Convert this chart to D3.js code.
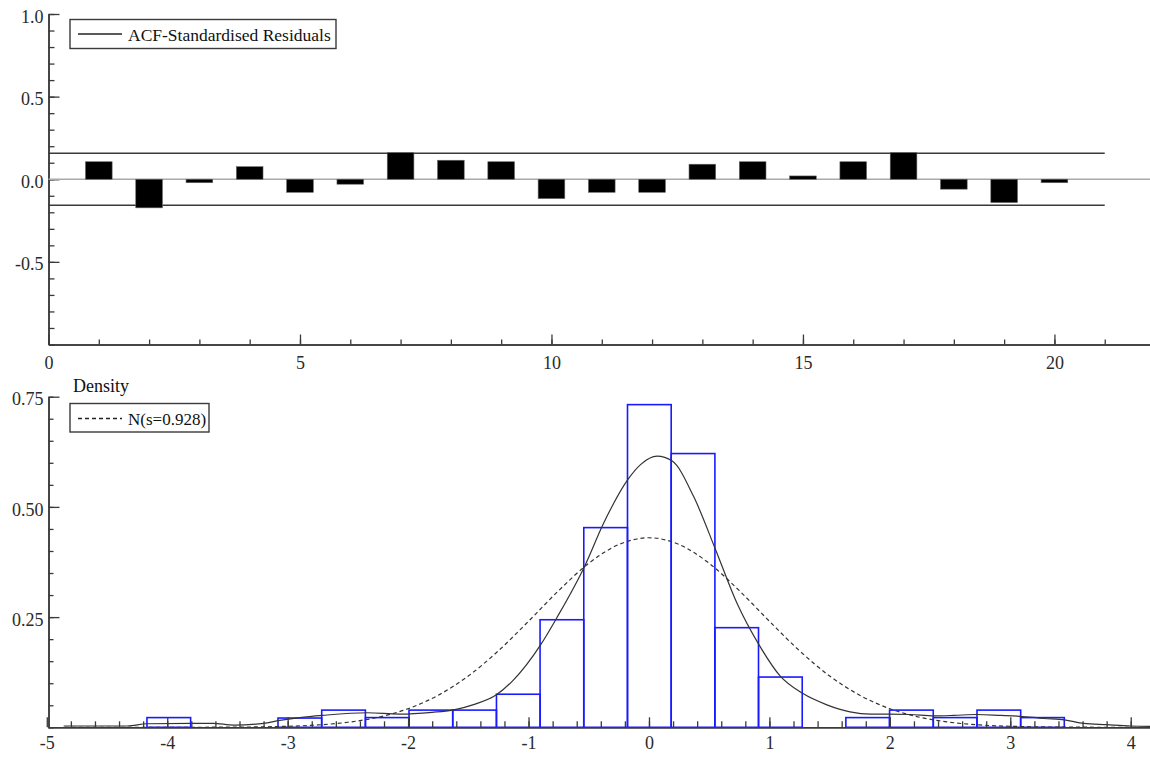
<!DOCTYPE html>
<html>
<head>
<meta charset="utf-8">
<script src="https://cdn.jsdelivr.net/npm/d3@7/dist/d3.min.js"></script>
<style>
body{margin:0;background:#fff;}
text{font-family:"Liberation Serif","Times New Roman",serif;}
</style>
</head>
<body>
<div id="chart"></div>
<script>
// ACF panel
var acfLags = [1,2,3,4,5,6,7,8,9,10,11,12,13,14,15,16,17,18,19,20];
var acfValues = [0.106,-0.173,-0.021,0.076,-0.079,-0.030,0.161,0.115,0.106,-0.117,
                 -0.079,-0.079,0.091,0.106,0.020,0.106,0.161,-0.060,-0.141,-0.021];
var acfBand = 0.157;
var acfTicks = [-0.5,0,0.5,1];
var lagTicks = [0,5,10,15,20];

// density panel
var binCentres = [-3.987,-3.624,-3.262,-2.899,-2.536,-2.173,-1.811,-1.448,-1.085,-0.723,-0.360,
                  0.003,0.366,0.728,1.091,1.454,1.816,2.179,2.542,2.905,3.267];
var binDensity = [0.022,0,0,0.021,0.039,0.022,0.039,0.039,0.075,0.244,0.453,
                  0.732,0.621,0.226,0.114,0,0.022,0.039,0.022,0.039,0.022];
var binWidth = 0.3627;
var kdeX = [-4.86,-4.33,-4.17,-3.80,-3.62,-3.45,-3.20,-3.08,-2.90,-2.71,-2.34,-2.07,-1.80,-1.63,-1.45,-1.27,
            -1.13,-0.90,-0.76,-0.535,-0.375,-0.176,-0.07,0.068,0.193,0.37,0.553,0.73,0.914,1.09,1.275,1.477,
            1.67,1.84,2.0,2.17,2.37,2.53,2.72,2.92,3.08,3.28,3.45,3.61,3.80,4.0,4.16];
var kdeY = [0.003,0.003,0.008,0.009,0.009,0.005,0.009,0.015,0.022,0.027,0.033,0.030,0.034,0.039,0.052,0.073,
            0.106,0.187,0.251,0.365,0.464,0.562,0.596,0.615,0.604,0.524,0.403,0.282,0.187,0.116,0.077,0.051,
            0.035,0.030,0.030,0.029,0.026,0.027,0.029,0.027,0.025,0.020,0.017,0.009,0.006,0.003,0.002];
var normX = [-4.85,-4.5,-4,-3.5,-3,-2.75,-2.5,-2.25,-2,-1.75,-1.5,-1.25,-1,-0.75,-0.5,-0.25,0,
             0.25,0.5,0.75,1,1.25,1.5,1.75,2,2.25,2.5,2.75,3,3.5,4,4.15];
var normY = [0,0,0.00003,0.00035,0.0023,0.0053,0.0114,0.0227,0.0421,0.0727,0.1164,0.1736,0.2406,0.310,0.372,0.4147,0.430,
             0.4147,0.372,0.310,0.2406,0.1736,0.1164,0.0727,0.0421,0.0227,0.0114,0.0053,0.0023,0.00035,0.00003,0.00001];
var densTicks = [0.25,0.5,0.75];
var resTicks = [-5,-4,-3,-2,-1,0,1,2,3,4];

var W = 1150, H = 757;
var axisColor = '#3a3a3a', labelColor = '#2a2a2a';

var svg = d3.select('#chart').append('svg')
    .attr('width', W).attr('height', H)
    .style('background', '#fff');

// plain hyphen for negatives, like the original program
function fmt(spec){
    var f = d3.format(spec);
    return function(d){ return f(d).replace('\u2212', '-'); };
}

function styleAxis(g, size){
    g.select('.domain').attr('stroke', axisColor).attr('stroke-width', 1.5);
    g.selectAll('.tick line').attr('stroke', axisColor).attr('stroke-width', 1.3);
    g.selectAll('text')
        .attr('font-family', '"Liberation Serif","Times New Roman",serif')
        .attr('font-size', size || 18)
        .attr('fill', labelColor);
    g.attr('font-family', null).attr('font-size', null);
}

// ---------- top: ACF ----------
var x1 = d3.scaleLinear().domain([0, 21.9]).range([48.5, 1150]);
var y1 = d3.scaleLinear().domain([-1, 1]).range([344.5, 14]);

var minorY1 = d3.range(-10, 11).map(function(d){ return d / 10; });
svg.append('g').attr('transform', 'translate(48.5,0)')
    .call(d3.axisLeft(y1).tickValues(minorY1).tickSize(-6).tickSizeOuter(0).tickFormat(''))
    .call(styleAxis);
svg.append('g').attr('transform', 'translate(48.5,0)')
    .call(d3.axisLeft(y1).tickValues(acfTicks).tickSize(-11).tickSizeOuter(0).tickPadding(5)
        .tickFormat(fmt('.1f')))
    .call(styleAxis)
    .selectAll('text').attr('dy', '0.45em');

// zero line and +-2SE band
svg.append('line')
    .attr('x1', x1(0)).attr('x2', W)
    .attr('y1', y1(0)).attr('y2', y1(0))
    .attr('stroke', '#aaaaaa').attr('stroke-width', 1.5);
[acfBand, -acfBand].forEach(function(b){
    svg.append('line')
        .attr('x1', x1(0)).attr('x2', x1(21))
        .attr('y1', y1(b)).attr('y2', y1(b))
        .attr('stroke', '#3a3a3a').attr('stroke-width', 1.6);
});

var barW = x1(0.53) - x1(0);
svg.append('g').selectAll('rect')
    .data(acfValues)
    .enter()
    .append('rect')
    .attr('x', function(d, i){ return x1(acfLags[i]) - barW / 2; })
    .attr('y', function(d){ return y1(Math.max(d, 0)); })
    .attr('width', barW)
    .attr('height', function(d){ return Math.abs(y1(d) - y1(0)); })
    .attr('fill', '#000')
    .attr('stroke', '#666')
    .attr('stroke-width', 0.6);

var minorX1 = d3.range(0, 22);
svg.append('g').attr('transform', 'translate(0,344.5)')
    .call(d3.axisBottom(x1).tickValues(minorX1).tickSize(-5).tickSizeOuter(0).tickFormat(''))
    .call(styleAxis);
svg.append('g').attr('transform', 'translate(0,344.5)')
    .call(d3.axisBottom(x1).tickValues(lagTicks).tickSize(-10).tickSizeOuter(0).tickPadding(12)
        .tickFormat(fmt('d')))
    .call(styleAxis);

// legend top
var lg1 = svg.append('g');
lg1.append('rect').attr('x', 70).attr('y', 19.5).attr('width', 266).attr('height', 29)
    .attr('fill', '#fff').attr('stroke', '#3a3a3a').attr('stroke-width', 1.4);
lg1.append('line').attr('x1', 78).attr('x2', 122).attr('y1', 34).attr('y2', 34)
    .attr('stroke', '#222').attr('stroke-width', 1.3);
lg1.append('text').attr('x', 128).attr('y', 41).attr('font-size', 17.5).attr('fill', '#111')
    .text('ACF-Standardised Residuals');

// ---------- bottom: density ----------
var x2 = d3.scaleLinear().domain([-4.99, 4.16]).range([48, 1150]);
var y2 = d3.scaleLinear().domain([0, 0.75]).range([727.3, 396.7]);

var minorY2 = d3.range(0, 16).map(function(d){ return d * 0.05; });
svg.append('g').attr('transform', 'translate(48.5,0)')
    .call(d3.axisLeft(y2).tickValues(minorY2).tickSize(-5).tickSizeOuter(0).tickFormat(''))
    .call(styleAxis);
svg.append('g').attr('transform', 'translate(48.5,0)')
    .call(d3.axisLeft(y2).tickValues(densTicks).tickSize(-11).tickSizeOuter(0).tickPadding(5)
        .tickFormat(fmt('.2f')))
    .call(styleAxis)
    .selectAll('text').attr('dy', '0.45em');

svg.append('text').attr('x', 73).attr('y', 391.5).attr('font-size', 18).attr('fill', '#111')
    .text('Density');

// histogram
var bins = binCentres.map(function(c, i){ return {c: c, d: binDensity[i]}; })
    .filter(function(b){ return b.d > 0; });
svg.append('g').selectAll('rect')
    .data(bins)
    .enter()
    .append('rect')
    .attr('x', function(b){ return x2(b.c - binWidth / 2); })
    .attr('y', function(b){ return y2(b.d); })
    .attr('width', x2(binWidth) - x2(0))
    .attr('height', function(b){ return y2(0) - y2(b.d); })
    .attr('fill', 'none')
    .attr('stroke', '#1a1aff')
    .attr('stroke-width', 1.6);

var kde = kdeX.map(function(d, i){ return {x: d, y: kdeY[i]}; });
var norm = normX.map(function(d, i){ return {x: d, y: normY[i]}; });
var line2 = d3.line()
    .x(function(d){ return x2(d.x); })
    .y(function(d){ return y2(d.y); })
    .curve(d3.curveMonotoneX);

svg.append('path').datum(norm)
    .attr('fill', 'none').attr('stroke', '#333').attr('stroke-width', 1.2)
    .attr('stroke-dasharray', '4,3')
    .attr('d', line2);
svg.append('path').datum(kde)
    .attr('fill', 'none').attr('stroke', '#333').attr('stroke-width', 1.2)
    .attr('d', line2);

var minorX2 = d3.range(-24, 21).map(function(d){ return d / 5; });
svg.append('g').attr('transform', 'translate(0,727.3)')
    .call(d3.axisBottom(x2).tickValues(minorX2).tickSize(-6).tickSizeOuter(0).tickFormat(''))
    .call(styleAxis);
svg.append('g').attr('transform', 'translate(0,727.3)')
    .call(d3.axisBottom(x2).tickValues(resTicks).tickSize(-10).tickSizeOuter(0).tickPadding(9)
        .tickFormat(fmt('d')))
    .call(styleAxis);

// legend bottom
var lg2 = svg.append('g');
lg2.append('rect').attr('x', 70).attr('y', 403.5).attr('width', 139).attr('height', 28.5)
    .attr('fill', '#fff').attr('stroke', '#3a3a3a').attr('stroke-width', 1.4);
lg2.append('line').attr('x1', 78).attr('x2', 122).attr('y1', 418.5).attr('y2', 418.5)
    .attr('stroke', '#222').attr('stroke-width', 1.3).attr('stroke-dasharray', '4,3');
lg2.append('text').attr('x', 128).attr('y', 425).attr('font-size', 17).attr('fill', '#111')
    .text('N(s=0.928)');
</script>
</body>
</html>
